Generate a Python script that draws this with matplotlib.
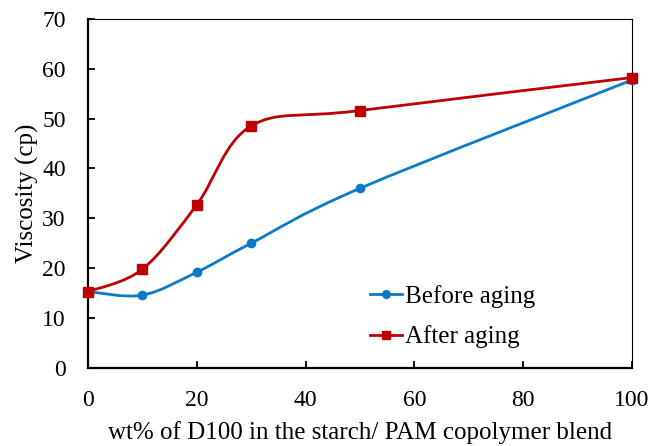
import matplotlib
matplotlib.use('Agg')
import matplotlib.pyplot as plt
import numpy as np
from matplotlib.path import Path
from matplotlib.patches import PathPatch
from matplotlib.lines import Line2D

wt_pct = [0, 10, 20, 30, 50, 100]
before_aging = [15.3, 14.6, 19.2, 25.0, 36.0, 57.7]
after_aging = [15.3, 19.8, 32.7, 48.5, 51.6, 58.2]

BLUE = '#0A7AC6'
RED = '#C00000'

plt.rcParams['font.family'] = ['Liberation Serif', 'DejaVu Serif']
plt.rcParams['font.size'] = 18


def excel_smooth_path(x, y):
    # bezier segments like excel's "smoothed line"
    pts = np.column_stack([x, y]).astype(float)
    n = len(pts)
    verts = [pts[0]]
    codes = [Path.MOVETO]
    for i in range(n - 1):
        p0 = pts[i - 1] if i > 0 else pts[i]
        p1 = pts[i]
        p2 = pts[i + 1]
        p3 = pts[i + 2] if i + 2 < n else pts[i + 1]
        c1 = p1 + (p2 - p0) / 6.0
        c2 = p2 - (p3 - p1) / 6.0
        verts += [c1, c2, p2]
        codes += [Path.CURVE4] * 3
    return Path(verts, codes)


fig = plt.figure(figsize=(6.52, 4.46), dpi=100)
ax = fig.add_axes([0.135, 0.175, 0.834, 0.783])

series = [(before_aging, BLUE, 'o', 6.0, 'Before aging'),
          (after_aging, RED, 's', 6.5, 'After aging')]
handles = []
for ys, col, mk, ms, lab in series:
    patch = PathPatch(excel_smooth_path(wt_pct, ys), facecolor='none',
                      edgecolor=col, lw=2.0, zorder=2)
    ax.add_patch(patch)
    ax.plot(wt_pct, ys, linestyle='none', marker=mk, color=col,
            markersize=ms, zorder=3, clip_on=False)
    handles.append(Line2D([], [], color=col, lw=2.0, marker=mk, markersize=ms - 0.5))

ax.set_xlim(0, 100)
ax.set_ylim(0, 70)
ax.set_xticks(range(0, 101, 20))
ax.set_yticks(range(0, 71, 10))
ax.tick_params(direction='in', length=5, width=1.3, labelsize=17)
ax.tick_params(axis='x', pad=16)
ax.tick_params(axis='y', pad=16)
ax.tick_params(top=False, right=False)

for s in ['left', 'bottom']:
    ax.spines[s].set_linewidth(1.6)
for s in ['top', 'right']:
    ax.spines[s].set_linewidth(0.8)

ax.set_xlabel('wt% of D100 in the starch/ PAM copolymer blend', labelpad=7)
ax.set_ylabel('Viscosity (cp)', labelpad=2)

ax.legend(handles, [s[4] for s in series], frameon=False,
          loc='upper left', bbox_to_anchor=(0.518, 0.238), borderaxespad=0,
          borderpad=0, handlelength=1.3, handletextpad=0.12, labelspacing=0.7)

fig.savefig('out.png', dpi=100)
